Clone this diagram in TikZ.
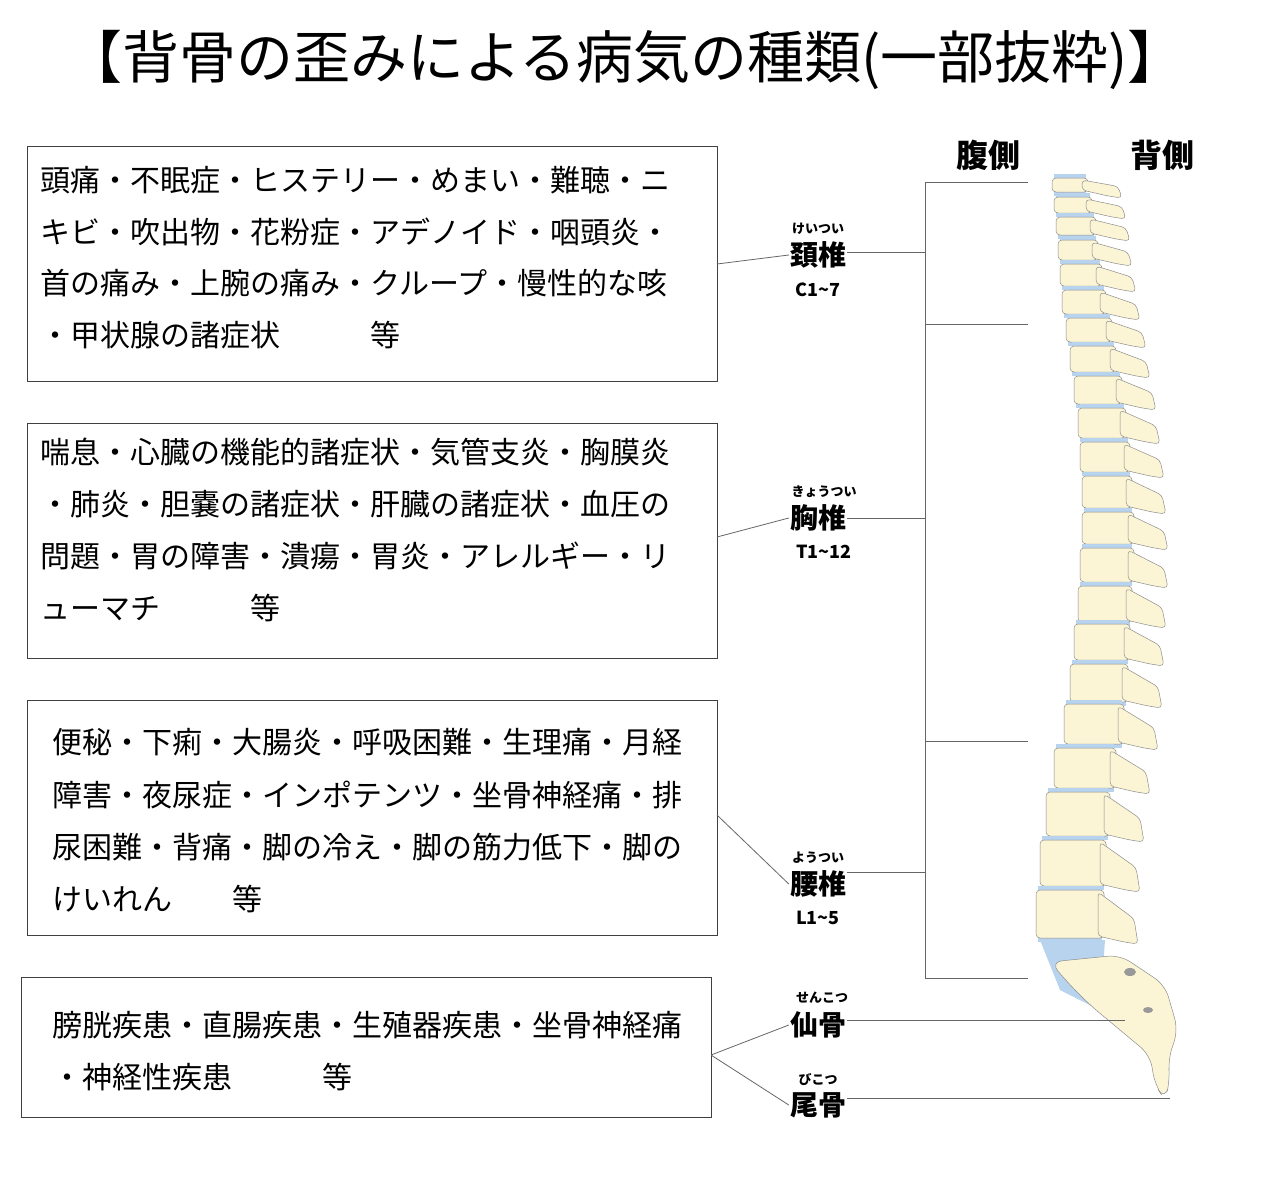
\documentclass[tikz,border=0pt]{standalone}
\usepackage{fontspec}
\setmainfont{Noto Sans CJK JP}
\definecolor{bone}{HTML}{FBF5D6}
\definecolor{disc}{HTML}{B8D3EE}
\definecolor{boneline}{HTML}{8C8C8C}
\tikzset{
  listbox/.style={draw=black!75, line width=1pt},
  listtext/.style={anchor=west, inner sep=0pt, font=\fontsize{30}{34}\selectfont},
  partname/.style={font=\bfseries\fontsize{28}{30}\selectfont, inner sep=1pt},
  ruby/.style={font=\bfseries\fontsize{13}{14}\selectfont, inner sep=0pt},
  spanlabel/.style={font=\bfseries\fontsize{18}{20}\selectfont, inner sep=0pt},
  leader/.style={draw=black!60, line width=0.8pt},
  vert/.style={fill=bone, draw=boneline, line width=0.5pt, rounded corners=4pt}
}
\begin{document}
\begin{tikzpicture}[x=1pt,y=-1pt]
\useasboundingbox[fill=white] (0,0) rectangle (1280,1200);
\node[font=\fontsize{57}{64}\selectfont] (title) at (625,60) {【背骨の歪みによる病気の種類(一部抜粋)】};
% boxes
\draw[listbox] (27,146) rectangle (717,381);
\draw[listbox] (27,423) rectangle (717,658);
\draw[listbox] (27,700) rectangle (717,935);
\draw[listbox] (21,977) rectangle (711,1117);
\coordinate (b1) at (717,264);
\coordinate (b2) at (717,537);
\coordinate (b3) at (717,815);
\coordinate (b4) at (711,1055);
\node[listtext] (t11) at (40,180) {頭痛・不眠症・ヒステリー・めまい・難聴・ニ};
\node[listtext] (t12) at (40,232) {キビ・吹出物・花粉症・アデノイド・咽頭炎・};
\node[listtext] (t13) at (40,283) {首の痛み・上腕の痛み・クループ・慢性的な咳};
\node[listtext] (t14) at (40,335) {・甲状腺の諸症状\hspace{3em}等};
\node[listtext] (t21) at (40,452) {喘息・心臓の機能的諸症状・気管支炎・胸膜炎};
\node[listtext] (t22) at (40,504) {・肺炎・胆嚢の諸症状・肝臓の諸症状・血圧の};
\node[listtext] (t23) at (40,556) {問題・胃の障害・潰瘍・胃炎・アレルギー・リ};
\node[listtext] (t24) at (40,608) {ューマチ\hspace{3em}等};
\node[listtext] (t31) at (52,742) {便秘・下痢・大腸炎・呼吸困難・生理痛・月経};
\node[listtext] (t32) at (52,795) {障害・夜尿症・インポテンツ・坐骨神経痛・排};
\node[listtext] (t33) at (52,847) {尿困難・背痛・脚の冷え・脚の筋力低下・脚の};
\node[listtext] (t34) at (52,899) {けいれん\hspace{2em}等};
\node[listtext] (t41) at (52,1025) {膀胱疾患・直腸疾患・生殖器疾患・坐骨神経痛};
\node[listtext] (t42) at (52,1077) {・神経性疾患\hspace{3em}等};
% part labels
\node[font=\bfseries\fontsize{32}{34}\selectfont] (ventral) at (988,155) {腹側};
\node[font=\bfseries\fontsize{32}{34}\selectfont] (dorsal) at (1162,155) {背側};
\node[partname] (cerv) at (818,255) {頚椎};
\node[ruby] at (818,229) {けいつい};
\node[spanlabel] at (818,290) {C1\char`~7};
\node[partname] (thor) at (818,518) {胸椎};
\node[ruby] at (824,492) {きょうつい};
\node[spanlabel] at (824,552) {T1\char`~12};
\node[partname] (lumb) at (818,884) {腰椎};
\node[ruby] at (818,858) {ようつい};
\node[spanlabel] at (818,918) {L1\char`~5};
\node[partname] (sacr) at (818,1025) {仙骨};
\node[ruby] at (822,998) {せんこつ};
\node[partname] (cocc) at (818,1105) {尾骨};
\node[ruby] at (818,1079) {びこつ};
% bracket
\coordinate (k1) at (925,182);
\coordinate (k2) at (925,324);
\coordinate (k3) at (925,741);
\coordinate (k4) at (925,978);
\draw[leader] (k1) -- (k4);
\foreach \k in {k1,k2,k3,k4} \draw[leader] (\k) -- ++(103,0);
% leaders
\draw[leader] (b1) -- (cerv.west);
\draw[leader] (cerv.east |- 0,252) -- (925,252);
\draw[leader] (b2) -- (thor.west);
\draw[leader] (thor.east) -- (925,518);
\draw[leader] (b3) -- (lumb.west);
\draw[leader] (lumb.east |- 0,872) -- (925,872);
\draw[leader] (b4) -- (sacr.west);
\draw[leader] (b4) -- (cocc.west);
% spine: y, height, body x, body width
\foreach \y/\h/\x/\w in {178/14/1052/36,197/16/1054/38,217/18/1056/40,240/20/1058/40,264/22/1060/42,290/24/1062/44,
  318/24/1066/46,346/26/1070/46,376/28/1074/48,408/30/1078/48,442/30/1080/50,476/32/1082/50,
  512/32/1082/52,548/34/1080/54,586/36/1078/54,624/36/1074/56,664/38/1070/58,704/40/1064/60,
  748/40/1054/62,792/44/1046/64,840/46/1040/66,890/48/1036/68} {
  \fill[disc] (\x+2,\y-4) rectangle (\x+\w-2,\y+\h+4);
  \draw[vert] (\x,\y) rectangle (\x+\w,\y+\h);
  \draw[vert] (\x+\w-6,\y+2) -- (\x+\w+30,\y+\h*0.6) -- (\x+\w+34,\y+\h+6) -- (\x+\w+20,\y+\h+4) -- (\x+\w-6,\y+\h-2) -- cycle;
}
\fill[disc] (1040,940) -- (1105,940) -- (1100,1010) -- (1060,990) -- cycle;
\draw[vert, rounded corners=12pt] (1050,962) -- (1120,955) -- (1165,985) -- (1178,1030) -- (1168,1060)
  -- (1170,1080) -- (1165,1100) -- (1155,1085) -- (1150,1055) -- (1120,1030) -- (1090,1005) -- (1070,985) -- cycle;
\fill[black!40] (1130,972) ellipse (6 and 4);
\fill[black!40] (1148,1010) ellipse (5 and 3);
% sacrum and coccyx leaders
\coordinate (sacrum) at (1125,1020);
\coordinate (coccyx) at (1170,1098);
\draw[leader] (sacr.east |- sacrum) -- (sacrum);
\draw[leader] (cocc.east |- coccyx) -- (coccyx);
\end{tikzpicture}
\end{document}
